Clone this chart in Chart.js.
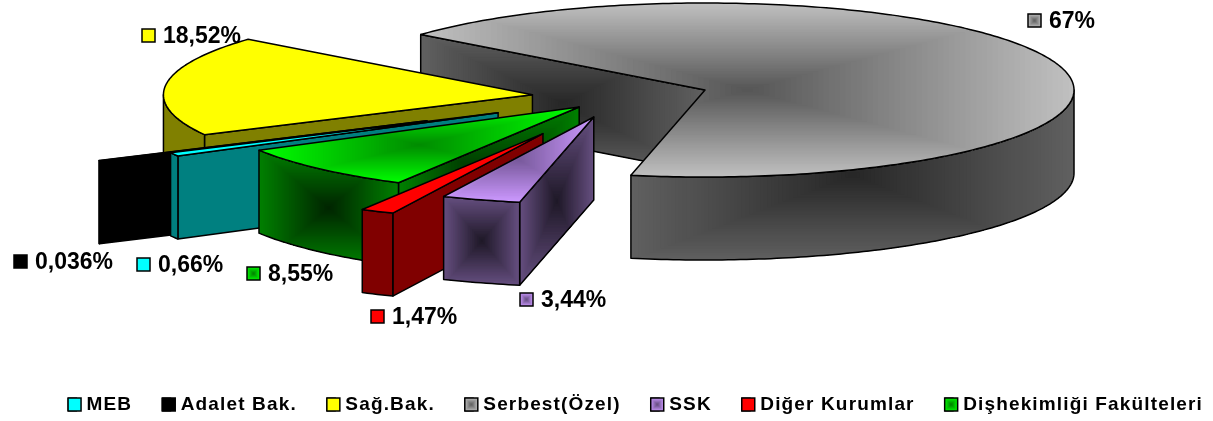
<!DOCTYPE html>
<html>
<head>
<meta charset="utf-8">
<title>Pasta grafiği</title>
<style>
  html, body { margin: 0; padding: 0; background: #fff; }
  canvas { display: block; }
</style>
<script src="https://cdn.jsdelivr.net/npm/chart.js@4/dist/chart.umd.min.js"></script>
</head>
<body>
<canvas id="pie" width="1213" height="421"></canvas>
<script>
// Values
const categories = ['MEB', 'Adalet Bak.', 'Sağ.Bak.', 'Serbest(Özel)', 'SSK', 'Diğer Kurumlar', 'Dişhekimliği Fakülteleri'];
const shares = [0.66, 0.036, 18.52, 67, 3.44, 1.47, 8.55];
const shareLabels = ['0,66%', '0,036%', '18,52%', '67%', '3,44%', '1,47%', '8,55%'];

// Look of the 3D pie (same order as categories)
const topColors = ['#00FFFF', '#000000', '#FFFF00', '#C0C0C0', '#CC99FF', '#FF0000', '#00FF00'];
const topInner = [null, null, null, '#555555', '#77599A', null, '#008A00'];
const sideColors = ['#008080', '#000000', '#808000', '#606060', '#664F80', '#800000', '#008000'];
const sideInner = [null, null, null, '#262626', '#1E1826', null, '#002400'];
const explode = [33, 51.5, 21, 21, 21, 41, 14];
const paintOrder = [3, 2, 1, 0, 6, 5, 4];
const labelSpots = [[137, 258], [14, 255], [142, 29], [1028, 14], [520, 293], [371, 310], [247, 267]];

const SCREEN_X = 621, SCREEN_Y = 97, RADIUS = 87, STRETCH = 369 / 87, DEPTH = 83;
const FONT = "'Liberation Sans', Arial, sans-serif";

function hexRgb(h) {
    return [1, 3, 5].map(i => parseInt(h.substr(i, 2), 16));
}

// Excel style "from center" fill: nested rectangles inside the face
function paintFace(ctx, pts, outer, inner) {
    ctx.beginPath();
    pts.forEach((p, i) => i ? ctx.lineTo(p[0], p[1]) : ctx.moveTo(p[0], p[1]));
    ctx.closePath();
    if (inner) {
        const xs = pts.map(p => p[0]), ys = pts.map(p => p[1]);
        const x0 = Math.min(...xs), x1 = Math.max(...xs), y0 = Math.min(...ys), y1 = Math.max(...ys);
        ctx.save();
        ctx.clip();
        fillNested(ctx, x0, y0, x1 - x0, y1 - y0, outer, inner);
        ctx.restore();
    } else {
        ctx.fillStyle = outer;
        ctx.fill();
    }
    ctx.stroke();
}

function fillNested(ctx, x, y, w, h, outer, inner) {
    const a = hexRgb(outer), b = hexRgb(inner), steps = 60;
    for (let i = 0; i <= steps; i++) {
        const t = i / steps, k = 1 - t;
        const c = a.map((v, j) => Math.round(v + (b[j] - v) * t));
        ctx.fillStyle = `rgb(${c[0]},${c[1]},${c[2]})`;
        ctx.fillRect(x + w / 2 * (1 - k), y + h / 2 * (1 - k), w * k, h * k);
    }
}

const pie3d = {
    id: 'pie3d',
    beforeUpdate(chart) {
        chart.ctx.letterSpacing = '1.15px';
    },
    beforeDatasetDraw() {
        return false;
    },
    beforeDatasetsDraw(chart) {
        const ctx = chart.ctx;
        const arcs = chart.getDatasetMeta(0).data;
        ctx.save();
        ctx.strokeStyle = '#000';
        ctx.lineWidth = 1.5;
        ctx.lineJoin = 'round';
        paintOrder.forEach(i => drawSlice(ctx, arcs[i], i));
        ctx.restore();
    },
    afterDraw(chart) {
        const ctx = chart.ctx;
        ctx.save();
        ctx.strokeStyle = '#000';
        ctx.lineWidth = 1.5;
        ctx.font = `bold 23px ${FONT}`;
        ctx.letterSpacing = '0px';
        ctx.textBaseline = 'middle';
        labelSpots.forEach((s, i) => {
            drawKey(ctx, s[0], s[1], i);
            ctx.fillStyle = '#000';
            ctx.fillText(shareLabels[i], s[0] + 21, s[1] + 8);
        });
        // legend boxes are wider than the narrow box Chart.js leaves for them
        chart.legend.legendHitBoxes.forEach((b, i) => {
            drawKey(ctx, b.left, b.top + (b.height - 13) / 2, i);
        });
        ctx.restore();
    }
};

function drawKey(ctx, x, y, i) {
    if (topInner[i]) {
        fillNested(ctx, x, y, 13, 13, topColors[i], sideColors[i]);
    } else {
        ctx.fillStyle = topColors[i];
        ctx.fillRect(x, y, 13, 13);
    }
    ctx.strokeRect(x, y, 13, 13);
}

function drawSlice(ctx, arc, i) {
    const p = arc.getProps(['x', 'y', 'startAngle', 'endAngle', 'outerRadius'], true);
    const a0 = p.startAngle, a1 = p.endAngle, mid = (a0 + a1) / 2, off = arc.options.offset;
    const ax = SCREEN_X + Math.cos(mid) * off * STRETCH;
    const ay = SCREEN_Y + Math.sin(mid) * off;
    const rx = p.outerRadius * STRETCH, ry = p.outerRadius;
    const onRim = a => [ax + Math.cos(a) * rx, ay + Math.sin(a) * ry];
    const down = q => [q[0], q[1] + DEPTH];
    const sample = (from, to) => {
        const n = Math.max(2, Math.ceil(Math.abs(to - from) * 60)), out = [];
        for (let k = 0; k <= n; k++) out.push(onRim(from + (to - from) * k / n));
        return out;
    };
    const apex = [ax, ay];
    const side = [sideColors[i], sideInner[i]];

    // cut faces, only when they look towards the viewer
    if (Math.cos(a1) > 0) paintFace(ctx, [apex, onRim(a1), down(onRim(a1)), down(apex)], side[0], side[1]);
    if (-Math.cos(a0) > 0) paintFace(ctx, [apex, onRim(a0), down(onRim(a0)), down(apex)], side[0], side[1]);

    // outer wall, front half of the ellipse only
    for (let k = -1; k <= 1; k++) {
        const lo = Math.max(a0, k * 2 * Math.PI), hi = Math.min(a1, k * 2 * Math.PI + Math.PI);
        if (hi > lo) {
            const edge = sample(lo, hi);
            paintFace(ctx, edge.concat(edge.slice().reverse().map(down)), side[0], side[1]);
        }
    }

    paintFace(ctx, [apex].concat(sample(a0, a1)), topColors[i], topInner[i]);
}

new Chart(document.getElementById('pie'), {
    type: 'pie',
    data: {
        labels: categories,
        datasets: [{
            data: shares,
            backgroundColor: topColors,
            borderColor: '#000',
            borderWidth: 1,
            offset: explode
        }]
    },
    options: {
        responsive: false,
        animation: false,
        rotation: -119.8,
        radius: RADIUS,
        layout: { padding: { right: -20, bottom: -3 } },
        plugins: {
            tooltip: { enabled: false },
            legend: {
                position: 'bottom',
                align: 'end',
                labels: {
                    color: '#000',
                    boxWidth: 9,
                    boxHeight: 13,
                    padding: 30,
                    font: { family: FONT, size: 19, weight: 'bold' }
                }
            }
        }
    },
    plugins: [pie3d]
});
</script>
</body>
</html>
